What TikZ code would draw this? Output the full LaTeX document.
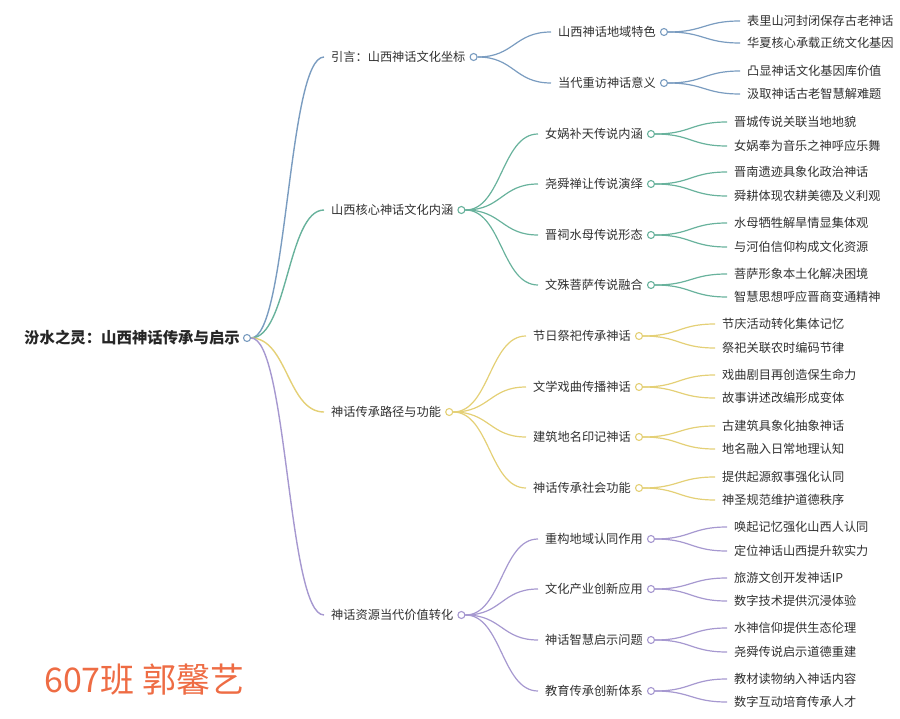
\documentclass[tikz,border=0pt]{standalone}
\usepackage{fontspec}
\setmainfont{Noto Sans CJK SC}
\usetikzlibrary{calc}
\definecolor{cblue}{RGB}{122,156,192}
\definecolor{cteal}{RGB}{104,178,156}
\definecolor{cyel}{RGB}{228,208,118}
\definecolor{cpur}{RGB}{166,152,208}
\definecolor{txt}{RGB}{48,48,48}
\definecolor{foot}{RGB}{238,108,68}
\newcommand\mlink[3]{\draw[#1] let \p1=(#2.east), \p2=([xshift=-7pt]#3.west) in (\p1) .. controls ({0.5*\x1+0.5*\x2},\y1) and ({0.5*\x1+0.5*\x2},\y2) .. (\p2);}
\begin{document}
\begin{tikzpicture}[x=1pt,y=-1pt,
  lbl/.style={anchor=west, inner sep=0pt, font=\fontsize{12.2}{14}\selectfont, text=txt, text height=10.7pt, text depth=1.5pt},
  rootlbl/.style={anchor=west, inner sep=0pt, font=\fontsize{15.4}{18}\selectfont\bfseries, text=black!85, text height=13.5pt, text depth=1.9pt},
  dot/.style={circle, draw=#1, fill=white, inner sep=0pt, minimum size=7pt, line width=1.1pt},
  lk/.style={draw=#1, line width=1.2pt},
  rlk/.style={draw=#1, line width=1.4pt}]
\useasboundingbox (0,0) rectangle (900,719);

% root
\node[rootlbl] (r) at (24,338) {汾水之灵：山西神话传承与启示};
\node[dot=cblue] (rd) at ([xshift=7pt]r.east) {};

% level 1
\node[lbl] (a) at (331,57) {引言：山西神话文化坐标};
\node[lbl] (b) at (331,210) {山西核心神话文化内涵};
\node[lbl] (c) at (331,412) {神话传承路径与功能};
\node[lbl] (d) at (331,615) {神话资源当代价值转化};
\node[dot=cblue] (ad) at ([xshift=8pt]a.east) {};
\node[dot=cteal] (bd) at ([xshift=8pt]b.east) {};
\node[dot=cyel] (cd) at ([xshift=8pt]c.east) {};
\node[dot=cpur] (dd) at ([xshift=8pt]d.east) {};

% level 2
\node[lbl] (a1) at (558,32) {山西神话地域特色};
\node[lbl] (a2) at (558,83) {当代重访神话意义};
\node[lbl] (b1) at (545,134) {女娲补天传说内涵};
\node[lbl] (b2) at (545,184) {尧舜禅让传说演绎};
\node[lbl] (b3) at (545,235) {晋祠水母传说形态};
\node[lbl] (b4) at (545,285) {文殊菩萨传说融合};
\node[lbl] (c1) at (533,336) {节日祭祀传承神话};
\node[lbl] (c2) at (533,387) {文学戏曲传播神话};
\node[lbl] (c3) at (533,437) {建筑地名印记神话};
\node[lbl] (c4) at (533,488) {神话传承社会功能};
\node[lbl] (d1) at (545,539) {重构地域认同作用};
\node[lbl] (d2) at (545,589) {文化产业创新应用};
\node[lbl] (d3) at (545,640) {神话智慧启示问题};
\node[lbl] (d4) at (545,691) {教育传承创新体系};
\foreach \n in {a1,a2}{\node[dot=cblue] (\n d) at ([xshift=8pt]\n.east) {};}
\foreach \n in {b1,b2,b3,b4}{\node[dot=cteal] (\n d) at ([xshift=8pt]\n.east) {};}
\foreach \n in {c1,c2,c3,c4}{\node[dot=cyel] (\n d) at ([xshift=8pt]\n.east) {};}
\foreach \n in {d1,d2,d3,d4}{\node[dot=cpur] (\n d) at ([xshift=8pt]\n.east) {};}

% level 3
\node[lbl] (a11) at (747,21) {表里山河封闭保存古老神话};
\node[lbl] (a12) at (747,43) {华夏核心承载正统文化基因};
\node[lbl] (a21) at (747,71) {凸显神话文化基因库价值};
\node[lbl] (a22) at (747,94) {汲取神话古老智慧解难题};
\node[lbl] (b11) at (734,122) {晋城传说关联当地地貌};
\node[lbl] (b12) at (734,146) {女娲奉为音乐之神呼应乐舞};
\node[lbl] (b21) at (734,172) {晋南遗迹具象化政治神话};
\node[lbl] (b22) at (734,196) {舜耕体现农耕美德及义利观};
\node[lbl] (b31) at (734,223) {水母牺牲解旱情显集体观};
\node[lbl] (b32) at (734,247) {与河伯信仰构成文化资源};
\node[lbl] (b41) at (734,274) {菩萨形象本土化解决困境};
\node[lbl] (b42) at (734,297) {智慧思想呼应晋商变通精神};
\node[lbl] (c11) at (722,324) {节庆活动转化集体记忆};
\node[lbl] (c12) at (722,348) {祭祀关联农时编码节律};
\node[lbl] (c21) at (722,375) {戏曲剧目再创造保生命力};
\node[lbl] (c22) at (722,398) {故事讲述改编形成变体};
\node[lbl] (c31) at (722,426) {古建筑具象化抽象神话};
\node[lbl] (c32) at (722,449) {地名融入日常地理认知};
\node[lbl] (c41) at (722,477) {提供起源叙事强化认同};
\node[lbl] (c42) at (722,500) {神圣规范维护道德秩序};
\node[lbl] (d11) at (734,527) {唤起记忆强化山西人认同};
\node[lbl] (d12) at (734,551) {定位神话山西提升软实力};
\node[lbl] (d21) at (734,578) {旅游文创开发神话IP};
\node[lbl] (d22) at (734,601) {数字技术提供沉浸体验};
\node[lbl] (d31) at (734,628) {水神信仰提供生态伦理};
\node[lbl] (d32) at (734,652) {尧舜传说启示道德重建};
\node[lbl] (d41) at (734,679) {教材读物纳入神话内容};
\node[lbl] (d42) at (734,702) {数字互动培育传承人才};

% links root -> level 1
\mlink{rlk=cblue}{rd}{a}
\mlink{rlk=cteal}{rd}{b}
\mlink{rlk=cyel}{rd}{c}
\mlink{rlk=cpur}{rd}{d}
% level 1 -> level 2
\mlink{lk=cblue}{ad}{a1}
\mlink{lk=cblue}{ad}{a2}
\foreach \i in {1,...,4}{\mlink{lk=cteal}{bd}{b\i}}
\foreach \i in {1,...,4}{\mlink{lk=cyel}{cd}{c\i}}
\foreach \i in {1,...,4}{\mlink{lk=cpur}{dd}{d\i}}
% level 2 -> level 3
\foreach \i in {1,2}{\mlink{lk=cblue}{a\i d}{a\i 1}\mlink{lk=cblue}{a\i d}{a\i 2}}
\foreach \i in {1,...,4}{\mlink{lk=cteal}{b\i d}{b\i 1}\mlink{lk=cteal}{b\i d}{b\i 2}}
\foreach \i in {1,...,4}{\mlink{lk=cyel}{c\i d}{c\i 1}\mlink{lk=cyel}{c\i d}{c\i 2}}
\foreach \i in {1,...,4}{\mlink{lk=cpur}{d\i d}{d\i 1}\mlink{lk=cpur}{d\i d}{d\i 2}}

% footer
\node[anchor=west, inner sep=0pt, font=\fontsize{34}{38}\selectfont, text=foot, text height=29.9pt, text depth=4.1pt] (ft) at (44,680) {607班 郭馨艺};
\end{tikzpicture}
\end{document}
